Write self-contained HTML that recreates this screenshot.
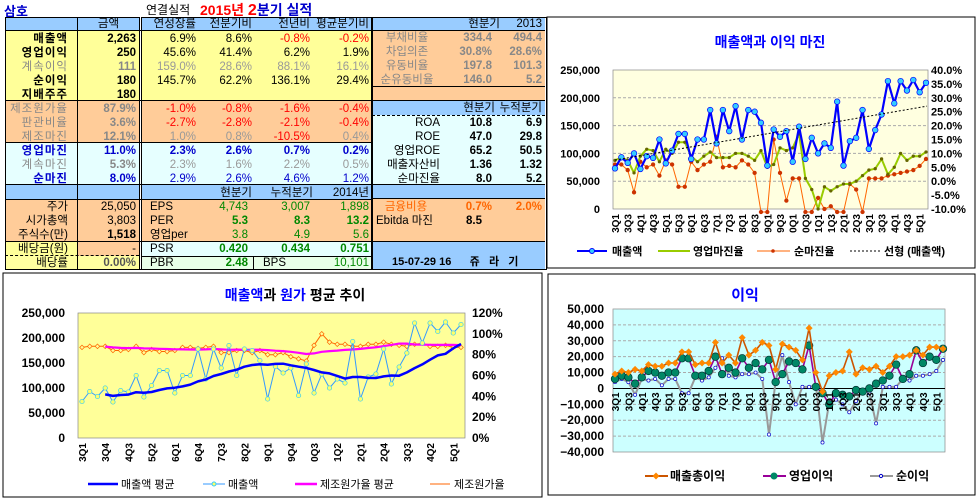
<!DOCTYPE html><html><head><meta charset="utf-8"><style>
body{margin:0;width:980px;height:501px;background:#fff;position:relative;overflow:hidden;font-family:"Liberation Sans","Noto Sans CJK KR","NanumGothic",sans-serif;font-size:11.5px}
.a{position:absolute;white-space:nowrap}
.c{position:absolute}
.r{text-align:right}.m{text-align:center}
.b{font-weight:bold}
</style></head><body>
<div class="a b" style="left:4px;top:1px;color:#00c;font-size:13px">삼호</div>
<div class="a" style="left:146px;top:1px;font-size:12px">연결실적</div>
<div class="a b" style="left:200px;top:0px;color:#f00;font-size:14px">2015년 <span style="font-size:16px">2</span><span style="color:#00c">분기 실적</span></div>
<div id="tbl"></div>
<svg id="g" width="980" height="501" style="position:absolute;left:0;top:0"></svg>
<script>
var T=document.getElementById('tbl');
function box(x,y,w,h,bg,extra){var d=document.createElement('div');d.className='c';d.style.cssText='left:'+x+'px;top:'+y+'px;width:'+w+'px;height:'+h+'px;background:'+bg+';'+(extra||'');T.appendChild(d);}
function txt(x,y,w,s,st,al){var d=document.createElement('div');d.className='a '+(al||'r');d.style.cssText='left:'+x+'px;top:'+(y-7)+'px;width:'+w+'px;line-height:14px;'+(st||'');d.textContent=s;T.appendChild(d);}
var Y='#ffff99',O='#ffcc99',C='#e6ffff',B='#99ccff',LY='#ffffa0',G='#e8ffe8';
box(5,17,367,14,B);box(5,31,367,70,Y);box(5,101,367,42,O);box(5,143,367,42,C);
box(5,185,367,15,B);box(5,200,367,42,O);box(5,242,73,14,Y);box(78,242,61,14,O);box(141,242,231,14,C);
box(5,256,134,14,LY);box(141,256,231,14,G);
box(5,17,367,253,'transparent','border:1px solid #000;box-sizing:border-box');
box(77,17,1,253,'#000');box(139,17,3,253,'#000;border-left:1px solid #000;border-right:1px solid #000;background:#fff;box-sizing:border-box');
[31,101,143,185,200,242,270].forEach(function(y){box(5,y-1,367,1,'#000')});
box(5,255,134,1,'transparent','border-top:1px dashed #000');box(141,256,231,1,'#000');box(253,256,1,14,'#000');
box(372,17,173,14,B);box(372,31,173,56,O);box(372,87,173,14,O);box(372,101,173,14,B);box(372,115,173,70,C);box(372,185,173,14,B);box(372,199,173,43,O);box(372,242,173,28,B);
[31,87,101,185,199,242].forEach(function(y){box(372,y-1,173,1,'#000')});
box(372,115,173,1,'transparent','border-top:1px dashed #000');
box(372,17,175,253,'transparent','border:1px solid #000;box-sizing:border-box');
var rows=[['매출액','2,263','6.9%','8.6%','-0.8%','-0.2%','k'],['영업이익','250','45.6%','41.4%','6.2%','1.9%','k'],['계속이익','111','159.0%','28.6%','88.1%','16.1%','g'],['순이익','180','145.7%','62.2%','136.1%','29.4%','k'],['지배주주','180','','','','','k'],
['제조원가율','87.9%','-1.0%','-0.8%','-1.6%','-0.4%','o'],['판관비율','3.6%','-2.7%','-2.8%','-2.1%','-0.4%','o'],['제조마진','12.1%','1.0%','0.8%','-10.5%','0.4%','o2'],
['영업마진','11.0%','2.3%','2.6%','0.7%','0.2%','bl'],['계속마진','5.3%','2.3%','1.6%','2.2%','0.5%','g'],['순마진','8.0%','2.9%','2.6%','4.6%','1.2%','bl2']];
txt(78,24,61,'금액','','m');txt(141,24,55,'연성장률','','r');txt(196,24,56,'전분기비','','r');txt(253,24,57,'전년비','','r');txt(310,24,59,'평균분기비','','r');
rows.forEach(function(r,i){var y=39+14*i,t=r[6];
 var lab=t=='g'||t=='o'||t=='o2'?'color:#888':t.indexOf('bl')==0?'color:#00c;font-weight:bold':'font-weight:bold';
 var amt=t=='g'||t=='o'||t=='o2'?'color:#888;font-weight:bold':t.indexOf('bl')==0?'color:#00c;font-weight:bold':'font-weight:bold';
 txt(5,y,63,r[0],lab+';letter-spacing:1px');txt(78,y,58,r[1],amt);
 for(var j=0;j<4;j++){var v=r[2+j],s='';if(t=='g')s='color:#999';else if(t=='o')s='color:#f00';else if(t=='o2')s=v.charAt(0)=='-'?'color:#f00':'color:#999';else if(t=='bl')s='color:#00c;font-weight:bold';else if(t=='bl2')s='color:#00c';else s=v.charAt(0)=='-'?'color:#f00':'';
  txt([141,196,253,310][j],y,[55,56,57,59][j],v,s);}
});
txt(196,193,56,'현분기');txt(253,193,60,'누적분기');txt(310,193,59,'2014년');
var lr=[['주가','25,050','EPS','4,743','3,007','1,898',''],['시가총액','3,803','PER','5.3','8.3','13.2','font-weight:bold'],['주식수(만)','1,518','영업per','3.8','4.9','5.6','']];
lr.forEach(function(r,i){var y=207+14*i;txt(5,y,63,r[0]);txt(78,y,58,r[1],i==2?'font-weight:bold':'');txt(150,y,60,r[2],'','l');
 txt(196,y,52,r[3],'color:#080;'+r[6]);txt(253,y,57,r[4],'color:#080;'+r[6]);txt(310,y,59,r[5],'color:#080;'+r[6]);});
txt(5,249,63,'배당금(원)');txt(78,249,58,'-');txt(150,249,60,'PSR','','l');txt(196,249,52,'0.420','color:#080;font-weight:bold');txt(253,249,57,'0.434','color:#080;font-weight:bold');txt(310,249,59,'0.751','color:#080;font-weight:bold');
txt(5,263,63,'배당률');txt(78,263,58,'0.00%','font-weight:bold;color:#555');txt(150,263,60,'PBR','','l');txt(196,263,52,'2.48','color:#080;font-weight:bold');txt(263,263,50,'BPS','','l');txt(310,263,59,'10,101','color:#080');
txt(455,24,45,'현분기');txt(500,24,42,'2013');
[['부채비율','334.4','494.4'],['차입의존','30.8%','28.6%'],['유동비율','197.8','101.3'],['순유동비율','146.0','5.2']].forEach(function(r,i){var y=38+14*i;txt(372,y,70,r[0],'color:#888','m');txt(442,y,50,r[1],'color:#888;font-weight:bold');txt(492,y,50,r[2],'color:#888;font-weight:bold');});
txt(440,108,55,'현분기');txt(492,108,50,'누적분기');
[['ROA','10.8','6.9'],['ROE','47.0','29.8'],['영업ROE','65.2','50.5'],['매출자산비','1.36','1.32'],['순마진율','8.0','5.2']].forEach(function(r,i){var y=123+14*i;txt(372,y,68,r[0]);txt(442,y,50,r[1],'font-weight:bold');txt(492,y,50,r[2],'font-weight:bold');});
txt(372,207,68,'금융비용','color:#f60','m');txt(442,207,50,'0.7%','color:#f60;font-weight:bold');txt(492,207,50,'2.0%','color:#f60;font-weight:bold');
txt(376,221,80,'Ebitda 마진','','l');txt(442,221,40,'8.5','font-weight:bold');
txt(392,262,150,'15-07-29 16      쥬   라   기','font-weight:bold;font-size:11px;white-space:pre','l');

var S=document.getElementById('g'),NS='http://www.w3.org/2000/svg';
function el(n,a,p){var e=document.createElementNS(NS,n);for(var k in a)e.setAttribute(k,a[k]);(p||S).appendChild(e);return e;}
function tx(x,y,s,a){a=a||{};a.x=x;a.y=y;if(!a['font-size'])a['font-size']=11;if(!a['font-weight'])a['font-weight']='bold';a['font-family']='Liberation Sans,Noto Sans CJK KR,sans-serif';var e=el('text',a);e.textContent=s;return e;}
var rev=[73,93,83,100,72,95,92,125,82,105,135,135,90,125,125,178,118,178,140,185,125,178,175,155,78,143,130,140,85,148,90,128,100,118,110,193,78,122,128,178,108,142,170,230,190,230,213,232,210,227];
var opm=[7.5,8.5,7.5,3,9,11.5,11,7,11.5,10,14,14,9,7,9,10.5,8.5,8.5,8.5,10,10,9,7.5,11,5,6,12,11,12,17,1,-3,-10,-2,-3.5,-2,-1,-1,0,2,4,4.5,8,2.5,5,10,7.5,9,9,10.5];
var npm=[6,6,4,-4,7,5,6,2,7.5,6,-2,-2,7,4,6,7,16,5,5.5,5,7.5,6,3,-15,-15,15,3,-7,1,1,-15,-15,-6,-10,-9,-15,-15,-1,-3,-15,1,1,1,2,2.5,3,3.5,4,5.5,8];
function xs(n,x0,x1,pad){var a=[];for(var i=0;i<n;i++)a.push(x0+pad+(x1-x0-2*pad)*i/(n-1));return a;}
function line(X,V,f,col,w,dash){var p=X.map(function(x,i){return x.toFixed(1)+','+f(V[i]).toFixed(1)}).join(' ');el('polyline',{points:p,fill:'none',stroke:col,'stroke-width':w,'stroke-dasharray':dash||'','stroke-linejoin':'round'});}
function dots(X,V,f,col,r,sc,shape){X.forEach(function(x,i){var y=f(V[i]);if(shape=='d')el('polygon',{points:(x)+','+(y-r)+' '+(x+r)+','+y+' '+x+','+(y+r)+' '+(x-r)+','+y,fill:col,stroke:sc||col,'stroke-width':0.7});else el('circle',{cx:x,cy:y,r:r,fill:col,stroke:sc||col,'stroke-width':0.7});});}
function xl(X,labs,y,step){for(var i=0;i<X.length;i+=step){var l=labs[i/step|0];if(!l)continue;tx(0,0,l,{'font-size':10,transform:'translate('+(X[i]+4)+','+y+') rotate(-90)','text-anchor':'end'});}}
var labs1=[];var yy=['3','4','5','6','7','8','9','0','1','2','3','4','5'];for(var i=0;i<25;i++){labs1.push(yy[i>>1]+(i%2?'Q3':'Q1'));}

el('rect',{x:547,y:17,width:428,height:251,fill:'#fff',stroke:'#000','stroke-width':1});
tx(770,47,'매출액과 이익 마진',{'font-size':14,'text-anchor':'middle',fill:'#00f'});
el('rect',{x:613,y:70,width:315,height:139,fill:'#ffffe0',stroke:'#888','stroke-width':0.7});
var fy1=function(v){return 209-v/250*139},fp1=function(v){var y=209-(v+10)/50*139;return Math.min(Math.max(y,70),212)};
for(var k=1;k<5;k++)el('line',{x1:613,x2:928,y1:209-k*27.8,y2:209-k*27.8,stroke:'#aaa','stroke-dasharray':'3,2'});
['0','50,000','100,000','150,000','200,000','250,000'].forEach(function(s,k){tx(600,213-k*27.8,s,{'text-anchor':'end'});});
for(k=0;k<=10;k++)tx(931,213-k*13.9,((k*5-10).toFixed(1))+'%',{});
var X1=xs(50,613,928,2);
line(X1,npm,fp1,'#f60',1);dots(X1,npm,fp1,'#c30',1.8);
line(X1,opm,fp1,'#9c0',2);dots(X1,opm,fp1,'#660',1.3);
line(X1,rev,fy1,'#00f',2.2);dots(X1,rev,fy1,'#3cf',2.8,'#00f');
el('line',{x1:615,y1:fy1(88),x2:927,y2:fy1(185),stroke:'#000','stroke-dasharray':'2,2'});
xl(X1,labs1,214,2);
el('line',{x1:577,x2:607,y1:251,y2:251,stroke:'#00f','stroke-width':2});el('circle',{cx:592,cy:251,r:2.5,fill:'#3cf',stroke:'#00f'});tx(612,255,'매출액',{});
el('line',{x1:658,x2:690,y1:251,y2:251,stroke:'#9c0','stroke-width':2});tx(693,255,'영업마진율',{});
el('line',{x1:757,x2:790,y1:251,y2:251,stroke:'#f60','stroke-width':1});el('circle',{cx:773,cy:251,r:1.8,fill:'#c30'});tx(794,255,'순마진율',{});
el('line',{x1:850,x2:880,y1:251,y2:251,stroke:'#000','stroke-dasharray':'2,2'});tx(884,255,'선형 (매출액)',{});

el('rect',{x:3,y:273,width:539,height:224,fill:'#fff',stroke:'#000'});
tx(295,300,'',{'font-size':14,'text-anchor':'middle',fill:'#000'}).innerHTML='<tspan fill="#00f">매출액</tspan>과 <tspan fill="#00f">원가</tspan> 평균 추이';
el('rect',{x:78,y:313,width:387,height:125,fill:'#ffff99',stroke:'#888','stroke-width':0.7});
var fy2=function(v){return 438-v/250*125},fp2=function(v){return 438-v/120*125};
['0','50,000','100,000','150,000','200,000','250,000'].forEach(function(s,k){tx(65,442-k*25,s,{'text-anchor':'end','font-size':12});});
['0%','20%','40%','60%','80%','100%','120%'].forEach(function(s,k){tx(472,442-k*20.83,s,{'font-size':12});});
var X2=xs(50,78,465,4);
var cr=[87,88,88,88,84,84,85,88,82,85,83,83,84,87,87,86,87,88,82,82,84,84,82,84,80,80,82,78,76,74,89,100,92,90,90,88,88,90,90,92,90,89,88,90,91,88,88,89,87,87];
function ma(a,n){return a.map(function(v,i){var s=0,c=0;for(var j=Math.max(0,i-n+1);j<=i;j++){s+=a[j];c++}return s/c});}
var rma=ma(rev,12),cma=ma(cr,12);
line(X2,cr,fp2,'#f60',1);dots(X2,cr,fp2,'#ff9',2.3,'#f60','d');
line(X2.slice(3),cma.slice(3),fp2,'#f0f',2.2);
line(X2,rev,fy2,'#39f',1);dots(X2,rev,fy2,'#ff6',2.2,'#3cf');
line(X2.slice(3),rma.slice(3),fy2,'#00f',2.5);
var labs2=['3Q1','3Q4','4Q3','5Q2','6Q1','6Q4','7Q3','8Q2','9Q1','9Q4','0Q3','1Q2','2Q1','2Q4','3Q3','4Q2','5Q1'];
xl(X2,labs2,443,3);
el('line',{x1:88,x2:118,y1:484,y2:484,stroke:'#00f','stroke-width':2.5});tx(121,488,'매출액 평균',{'font-weight':'normal'});
el('line',{x1:203,x2:225,y1:484,y2:484,stroke:'#39f'});el('circle',{cx:214,cy:484,r:2,fill:'#ff6',stroke:'#3cf'});tx(228,488,'매출액',{'font-weight':'normal'});
el('line',{x1:295,x2:317,y1:484,y2:484,stroke:'#f0f','stroke-width':2.5});tx(320,488,'제조원가율 평균',{'font-weight':'normal'});
el('line',{x1:430,x2:450,y1:484,y2:484,stroke:'#f60'});tx(454,488,'제조원가율',{'font-weight':'normal'});

el('rect',{x:548,y:274,width:427,height:221,fill:'#fff',stroke:'#000'});
tx(745,300,'이익',{'font-size':15,fill:'#00f','text-anchor':'middle'});
el('rect',{x:613,y:309,width:332,height:143,fill:'#ccffff',stroke:'#888','stroke-width':0.7});
var fy3=function(v){return 452-(v+40)/90*143};
for(k=-30;k<=50;k+=10)if(k!=0)el('line',{x1:613,x2:945,y1:fy3(k),y2:fy3(k),stroke:'#aaa','stroke-dasharray':'3,2'});
el('line',{x1:613,x2:945,y1:fy3(0),y2:fy3(0),stroke:'#000'});
for(k=-40;k<=50;k+=10)tx(604,fy3(k)+4,(k<0?'−':'')+(k==0?'0':Math.abs(k)+',000'),{'text-anchor':'end','font-size':12});
var gp=[9,11,10,12,11,15,14,14,16,16,23,23,15,16,16,29,16,21,16,32,21,24,29,27,12,28,26,24,18,38,10,-2,8,10,11,23,9,13,12,14,10,14,20,20,21,24,21,26,26,25];
var op=[6,8,7,3,7,11,10,8,10,10,19,19,8,8,11,20,9,13,10,19,13,16,12,18,4,9,17,16,12,27,1,-3,-10,-3,-4,-5,-1,-2,0,3,5,8,15,6,9,24,16,20,18,25];
var np=[4,6,4,-4,6,5,6,2,6,6,-3,-3,7,5,7,13,19,8,7,9,9,10,6,-29,5,21,4,-10,1,1,2,-34,-9,-7,-10,-15,-8,-1,-3,-22,1,1,1,6,5,8,8,9,11,18];
var X3=xs(50,613,945,2);
line(X3,np,fy3,'#999',2);dots(X3,np,fy3,'#fff',1.6,'#00c');
line(X3,op,fy3,'#909',1.6);dots(X3,op,fy3,'#086',3.8,'#033');
line(X3,gp,fy3,'#c50',1.6);dots(X3,gp,fy3,'#f80',3,'#f80','d');
xl(X3,labs1,fy3(0)+4,2);
el('line',{x1:645,x2:668,y1:476,y2:476,stroke:'#c50','stroke-width':2});dots([656],[0],function(){return 476},'#f80',3,'#f80','d');tx(670,480,'매출총이익',{'font-size':12});
el('line',{x1:763,x2:786,y1:476,y2:476,stroke:'#909','stroke-width':2});el('circle',{cx:774,cy:476,r:3.5,fill:'#086'});tx(789,480,'영업이익',{'font-size':12});
el('line',{x1:870,x2:893,y1:476,y2:476,stroke:'#999','stroke-width':2});el('circle',{cx:881,cy:476,r:1.6,fill:'#fff',stroke:'#00c'});tx(896,480,'순이익',{'font-size':12});
</script>
</body></html>
